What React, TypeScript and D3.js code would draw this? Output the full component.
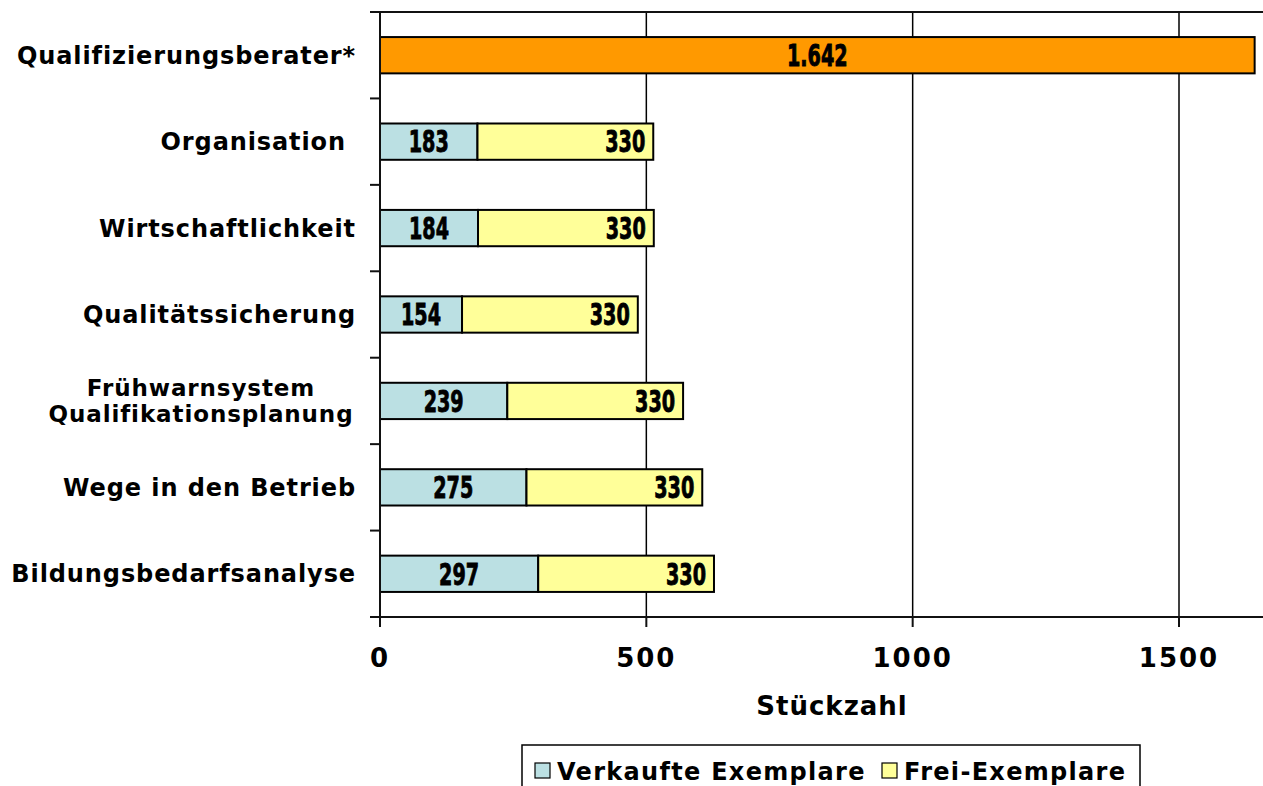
import React from 'react';
import * as d3 from 'd3';

// categories, top to bottom
const categories = [
  'Qualifizierungsberater*',
  'Organisation',
  'Wirtschaftlichkeit',
  'Qualitätssicherung',
  'Frühwarnsystem|Qualifikationsplanung',
  'Wege in den Betrieb',
  'Bildungsbedarfsanalyse',
];
const sold = [0, 183, 184, 154, 239, 275, 297];
const free = [0, 330, 330, 330, 330, 330, 330];
const special = [1642, 0, 0, 0, 0, 0, 0];
const xTicks = [0, 500, 1000, 1500];
const legendLabels = ['Verkaufte Exemplare', 'Frei-Exemplare'];

const W = 1263;
const H = 786;
const left = 380;
const top = 12;
const bottom = 617;

const labelFont = '"DejaVu Sans", Verdana, sans-serif';

// condensed bold value label (squeezed horizontally)
const ValueLabel: React.FC<{ x: number; y: number; anchor: 'start' | 'middle' | 'end'; text: string }> = ({ x, y, anchor, text }) => (
  <text transform={`translate(${x},${y}) scale(0.64,1)`} dy="0.36em" textAnchor={anchor}
    fontFamily={labelFont} fontWeight="bold" fontSize={30} fill="#000" stroke="#000" strokeWidth={0.9}>
    {text}
  </text>
);

const App: React.FC = () => {
  const x = d3.scaleLinear().domain([0, 1500]).range([left, 1179]);
  const y = d3
    .scaleBand<number>()
    .domain(d3.range(categories.length))
    .range([top, bottom])
    .paddingInner(0.58)
    .paddingOuter(0.29);
  const bh = y.bandwidth();
  const step = y.step();
  const fmt = d3.formatLocale({ decimal: ',', thousands: '.', grouping: [3], currency: ['', '€'] }).format(',');

  return (
    <svg width={W} height={H} style={{ position: 'absolute', left: 0, top: 0, background: '#fff' }}>
      {/* gridlines */}
      {xTicks.slice(1).map((t) => (
        <line key={t} x1={x(t)} x2={x(t)} y1={top} y2={bottom} stroke="#000" strokeWidth={1.5} />
      ))}
      {/* top border */}
      <line x1={370} x2={W} y1={top} y2={top} stroke="#111" strokeWidth={2} />

      {/* bars */}
      {categories.map((c, i) => {
        const yy = y(i)!;
        const cy = yy + bh / 2;
        if (special[i] > 0) {
          return (
            <g key={c}>
              <rect x={x(0)} y={yy} width={x(special[i]) - x(0)} height={bh} fill="#FF9900" stroke="#000" strokeWidth={2} />
              <ValueLabel x={(x(0) + x(special[i])) / 2} y={cy} anchor="middle" text={fmt(special[i])} />
            </g>
          );
        }
        const end = sold[i] + free[i];
        return (
          <g key={c}>
            <rect x={x(0)} y={yy} width={x(sold[i]) - x(0)} height={bh} fill="#BBE0E3" stroke="#000" strokeWidth={2} />
            <rect x={x(sold[i])} y={yy} width={x(end) - x(sold[i])} height={bh} fill="#FFFF99" stroke="#000" strokeWidth={2} />
            <ValueLabel x={(x(0) + x(sold[i])) / 2} y={cy} anchor="middle" text={String(sold[i])} />
            <ValueLabel x={x(end) - 8} y={cy} anchor="end" text={String(free[i])} />
          </g>
        );
      })}

      {/* category axis */}
      <line x1={left} x2={left} y1={top} y2={bottom + 10} stroke="#111" strokeWidth={2} />
      {d3.range(categories.length + 1).map((k) => (
        <line key={k} x1={370} x2={left} y1={top + k * step} y2={top + k * step} stroke="#111" strokeWidth={2} />
      ))}
      {categories.map((c, i) => {
        const lines = c.split('|');
        const cy = y(i)! + bh / 2;
        const multi = lines.length > 1;
        return (
          <text key={c} textAnchor={multi ? 'middle' : 'end'} y={cy}
            fontFamily={labelFont} fontWeight="bold" fontSize={multi ? 23 : 24} letterSpacing={0.9} fill="#000">
            {lines.map((l, j) => (
              <tspan key={j} x={multi ? 201 : i === 1 ? 346 : 356}
                dy={multi ? (j === 0 ? -5 : 26) : 8.5}>
                {l}
              </tspan>
            ))}
          </text>
        );
      })}

      {/* value axis */}
      <line x1={370} x2={W} y1={bottom} y2={bottom} stroke="#111" strokeWidth={2} />
      {xTicks.map((t) => (
        <g key={t}>
          <line x1={x(t)} x2={x(t)} y1={bottom} y2={bottom + 10} stroke="#111" strokeWidth={2} />
          <text x={x(t)} y={667} textAnchor="middle" fontFamily={labelFont} fontWeight="bold" fontSize={26} letterSpacing={2}>
            {t}
          </text>
        </g>
      ))}
      <text x={832} y={715} textAnchor="middle" fontFamily={labelFont} fontWeight="bold" fontSize={26} letterSpacing={1}>
        Stückzahl
      </text>

      {/* legend */}
      <rect x={522} y={745} width={618} height={50} fill="#fff" stroke="#000" strokeWidth={1.5} />
      {legendLabels.map((l, k) => {
        const sx = k === 0 ? 535 : 882;
        return (
          <g key={l}>
            <rect x={sx} y={763} width={15} height={15} fill={k === 0 ? '#BBE0E3' : '#FFFF99'} stroke="#000" strokeWidth={1.2} />
            <text x={sx + 22} y={780} fontFamily={labelFont} fontWeight="bold" fontSize={24} letterSpacing={1.3}>
              {l}
            </text>
          </g>
        );
      })}
    </svg>
  );
};

export default App;
